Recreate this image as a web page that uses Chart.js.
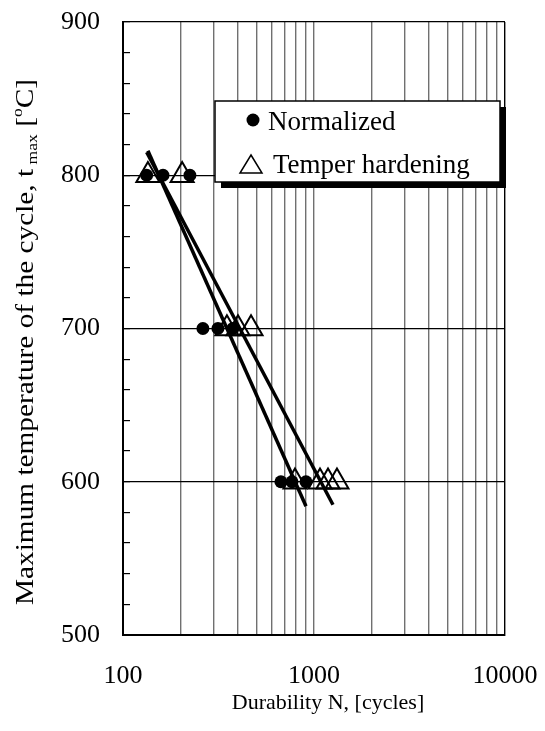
<!DOCTYPE html>
<html lang="en">
<head>
    <meta charset="UTF-8">
    <title>Durability vs maximum temperature of the cycle</title>
    <script src="https://cdn.jsdelivr.net/npm/chart.js"></script>
    <style>
        html, body { margin: 0; padding: 0; background: #fff; }
        #chart-container { width: 545px; height: 731px; }
    </style>
</head>
<body>

<div id="chart-container">
    <canvas id="durabilityChart" width="545" height="731"></canvas>
</div>

<script>
    // measured points: cycles to failure (N) at the max temperature of the cycle
    const normalizedCycles = [133, 162, 224, 262, 314, 376, 671, 767, 908];
    const normalizedTemps  = [800, 800, 800, 700, 700, 700, 600, 600, 600];

    const temperCycles = [135, 204, 350, 400, 468, 795, 1075, 1184, 1319];
    const temperTemps  = [800, 800, 700, 700, 700, 600, 600, 600, 600];

    // fitted lines, two end points each
    const normalizedFitCycles = [135, 908];
    const normalizedFitTemps  = [816, 584];
    const temperFitCycles = [133, 1257];
    const temperFitTemps  = [815, 585];

    const seriesNames = ['Normalized', 'Temper hardening'];
    const xTickLabels = [100, 1000, 10000];
    const xGridValues = [100, 200, 300, 400, 500, 600, 700, 800, 900,
                         1000, 2000, 3000, 4000, 5000, 6000, 7000, 8000, 9000, 10000];
    const yTickLabels = [500, 600, 700, 800, 900];
    const xTitle = 'Durability N, [cycles]';
    const yTitleParts = [
        ['Maximum temperature of the cycle, t', 'normal'],
        [' max', 'sub'],
        [' [', 'normal'],
        ['o', 'sup'],
        ['C]', 'normal']
    ];

    const SERIF = '"Liberation Serif", "Times New Roman", serif';

    const toPoints = (xs, ys) => xs.map((x, i) => ({ x: x, y: ys[i] }));

    // axis titles: rotated y title with subscript / superscript, x title below
    const axisTitlePlugin = {
        id: 'axisTitles',
        afterDraw(chart) {
            const ctx = chart.ctx;
            ctx.save();
            ctx.fillStyle = '#000';

            ctx.font = '22px ' + SERIF;
            ctx.textAlign = 'center';
            ctx.textBaseline = 'middle';
            ctx.fillText(xTitle, 328, 703);

            ctx.textAlign = 'left';
            ctx.translate(33, 342);
            ctx.rotate(-Math.PI / 2);
            ctx.textBaseline = 'alphabetic';
            let total = 0;
            const parts = yTitleParts.map(([text, kind]) => {
                const size = kind === 'normal' ? 25 : 15;
                ctx.font = size + 'px ' + SERIF;
                const w = ctx.measureText(text).width;
                total += w;
                return { text, kind, size, w };
            });
            ctx.scale(526 / total, 1);
            let x = -total / 2;
            parts.forEach(p => {
                ctx.font = p.size + 'px ' + SERIF;
                const dy = p.kind === 'sub' ? 4 : (p.kind === 'sup' ? -11 : 0);
                ctx.fillText(p.text, x, dy);
                x += p.w;
            });
            ctx.restore();
        }
    };

    // boxed legend with drop shadow, inside the plot
    const legendBoxPlugin = {
        id: 'legendBox',
        afterDraw(chart) {
            const ctx = chart.ctx;
            const bx = 215, by = 101, bw = 285, bh = 81;
            ctx.save();
            ctx.fillStyle = '#000';
            ctx.fillRect(bx + 6, by + 6, bw, bh);
            ctx.fillStyle = '#fff';
            ctx.fillRect(bx, by, bw, bh);
            ctx.strokeStyle = '#000';
            ctx.lineWidth = 1.5;
            ctx.strokeRect(bx, by, bw, bh);

            ctx.fillStyle = '#000';
            // marker 1: dot
            ctx.beginPath();
            ctx.arc(253, 120, 6.5, 0, Math.PI * 2);
            ctx.fill();
            // marker 2: open triangle
            ctx.beginPath();
            ctx.moveTo(251, 155);
            ctx.lineTo(262, 173);
            ctx.lineTo(240, 173);
            ctx.closePath();
            ctx.lineWidth = 1.5;
            ctx.stroke();

            ctx.font = '27px ' + SERIF;
            ctx.textBaseline = 'alphabetic';
            ctx.fillText(seriesNames[0], 268, 130);
            ctx.fillText(seriesNames[1], 273, 173);
            ctx.restore();
        }
    };

    const ctx = document.getElementById('durabilityChart').getContext('2d');

    new Chart(ctx, {
        data: {
            datasets: [
                {
                    type: 'line',
                    label: seriesNames[0] + ' fit',
                    data: toPoints(normalizedFitCycles, normalizedFitTemps),
                    borderColor: '#000',
                    borderWidth: 3.5,
                    pointRadius: 0,
                    fill: false
                },
                {
                    type: 'line',
                    label: seriesNames[1] + ' fit',
                    data: toPoints(temperFitCycles, temperFitTemps),
                    borderColor: '#000',
                    borderWidth: 3.5,
                    pointRadius: 0,
                    fill: false
                },
                {
                    type: 'scatter',
                    label: seriesNames[0],
                    data: toPoints(normalizedCycles, normalizedTemps),
                    pointStyle: 'circle',
                    pointRadius: 6.5,
                    backgroundColor: '#000',
                    borderColor: '#000',
                    borderWidth: 0
                },
                {
                    type: 'scatter',
                    label: seriesNames[1],
                    data: toPoints(temperCycles, temperTemps),
                    pointStyle: 'triangle',
                    pointRadius: 13.3,
                    backgroundColor: 'rgba(0,0,0,0)',
                    borderColor: '#000',
                    borderWidth: 2
                }
            ]
        },
        options: {
            responsive: false,
            animation: false,
            layout: { padding: { left: 0, right: 40, top: 22, bottom: 0 } },
            plugins: {
                legend: { display: false },
                tooltip: { enabled: false }
            },
            scales: {
                x: {
                    type: 'logarithmic',
                    min: 100,
                    max: 10000,
                    afterBuildTicks: scale => {
                        scale.ticks = xGridValues.map(v => ({ value: v }));
                    },
                    afterFit: scale => {
                        scale.height = 96;
                        scale.paddingLeft = 0;
                        scale.paddingRight = 0;
                    },
                    ticks: {
                        autoSkip: false,
                        maxRotation: 0,
                        padding: 26,
                        color: '#000',
                        font: { family: SERIF, size: 26 },
                        callback: v => xTickLabels.includes(v) ? String(v) : ''
                    },
                    grid: {
                        drawTicks: false,
                        lineWidth: 1.4,
                        color: c => (c.tick && c.tick.value === 10000) ? '#000' : '#707070'
                    },
                    border: { color: '#000', width: 2 }
                },
                y: {
                    min: 500,
                    max: 900,
                    ticks: {
                        stepSize: 20,
                        autoSkip: false,
                        padding: 30,
                        color: '#000',
                        font: { family: SERIF, size: 26 },
                        callback: v => yTickLabels.includes(v) ? String(v) : ''
                    },
                    afterFit: scale => {
                        scale.width = 123;
                        scale.paddingTop = 0;
                        scale.paddingBottom = 0;
                    },
                    grid: {
                        tickLength: -7,
                        tickColor: '#000',
                        lineWidth: 1.2,
                        color: c => (c.tick && yTickLabels.includes(c.tick.value)) ? '#000' : 'rgba(0,0,0,0)'
                    },
                    border: { color: '#000', width: 2 }
                }
            }
        },
        plugins: [axisTitlePlugin, legendBoxPlugin]
    });
</script>

</body>
</html>
